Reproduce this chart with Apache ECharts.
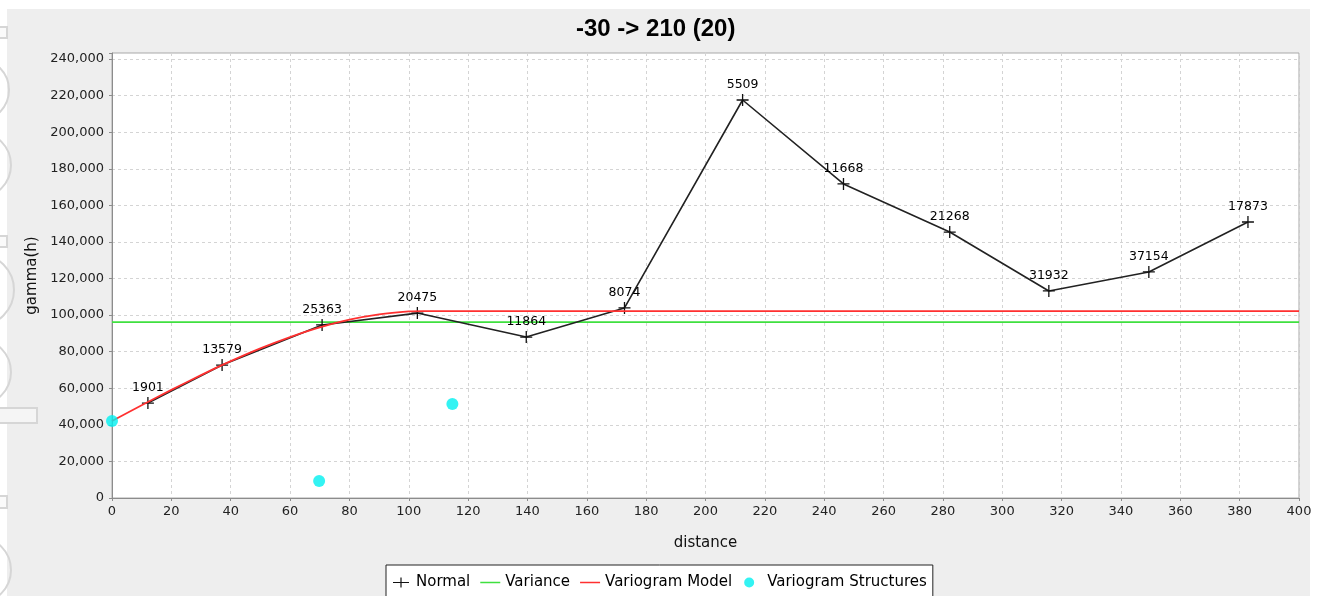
<!DOCTYPE html>
<html>
<head>
<meta charset="utf-8">
<title>Variogram -30 -> 210 (20)</title>
<script src="https://cdn.jsdelivr.net/npm/echarts@6/dist/echarts.min.js"></script>
<style>
  html, body { margin: 0; padding: 0; background: #fff; }
  #chart { width: 1323px; height: 596px; }
</style>
</head>
<body>
<div id="chart"></div>
<script>
// Experimental variogram: lag distance, semivariance and pair count per lag
const lagDistance = [12.1, 37.1, 70.8, 102.9, 139.6, 172.7, 212.5, 246.5, 282.3, 315.7, 349.4, 382.8];
const gammaValues = [51900, 72700, 94600, 101100, 88000, 103900, 217600, 171700, 145400, 113200, 123600, 150900];
const pairCounts  = [1901, 13579, 25363, 20475, 11864, 8074, 5509, 11668, 21268, 31932, 37154, 17873];

// Sample variance (horizontal reference)
const varianceX = [0, 400];
const varianceY = [96200, 96200];

// Fitted variogram model, sampled along the distance axis
const modelX = [0, 10, 20, 30, 40, 50, 60, 70, 80, 90, 100, 105, 400];
const modelY = [42100, 50700, 59100, 67200, 74800, 81800, 88000, 93300, 97500, 100400, 102000, 102200, 102200];

// Variogram structures (nugget and nested structure points)
const structureX = [0, 69.8, 114.7];
const structureY = [42100, 9300, 51400];

// Axis ticks
const xTicks = { min: 0, max: 400, step: 20 };
const yTicks = { min: 0, max: 243300, step: 20000 };

const chartTitle = '-30 -> 210 (20)';
const seriesNames = ['Normal', 'Variance', 'Variogram Model', 'Variogram Structures'];

const zip = (xs, ys) => xs.map((x, i) => [x, ys[i]]);

const FONT = 'DejaVu Sans';
const plusPath = 'path://M0,5.35H12V6.65H0Z M5.35,0H6.65V12H5.35Z';
// Legend icons: tiny corner specks pin every icon to the same 20x10 box
const box = 'M0,0L0.01,0L0.01,0.01Z M20,10L19.99,10L19.99,9.99Z ';
const legendPlus = 'path://' + box + 'M2,4.4H18V5.6H2Z M9.4,0H10.6V10H9.4Z';
const legendLine = 'path://' + box + 'M0,4.3H20V5.7H0Z';
const legendDot = 'path://' + box + 'M7,0A5,5 0 1,1 6.99,0Z';

const chart = echarts.init(document.getElementById('chart'), null, { renderer: 'canvas' });

const option = {
  backgroundColor: '#ffffff',
  animation: false,
  graphic: [
    { type: 'rect', z: -10, shape: { x: 7, y: 9, width: 1303, height: 600 }, style: { fill: '#eeeeee' } },
    // faint widgets peeking in from the left margin
    { type: 'circle', z: -9, shape: { cx: -22, cy: 90, r: 31 }, style: { fill: 'none', stroke: '#d6d6d6', lineWidth: 2 } },
    { type: 'circle', z: -9, shape: { cx: -22, cy: 165, r: 33 }, style: { fill: 'none', stroke: '#d6d6d6', lineWidth: 2 } },
    { type: 'circle', z: -9, shape: { cx: -22, cy: 290, r: 36 }, style: { fill: 'none', stroke: '#d6d6d6', lineWidth: 2 } },
    { type: 'circle', z: -9, shape: { cx: -22, cy: 372, r: 33 }, style: { fill: 'none', stroke: '#d6d6d6', lineWidth: 2 } },
    { type: 'circle', z: -9, shape: { cx: -22, cy: 570, r: 33 }, style: { fill: 'none', stroke: '#d6d6d6', lineWidth: 2 } },
    { type: 'rect', z: -9, shape: { x: -2, y: 27, width: 9, height: 11 }, style: { fill: '#fafafa', stroke: '#d6d6d6', lineWidth: 2 } },
    { type: 'rect', z: -9, shape: { x: -2, y: 236, width: 9, height: 11 }, style: { fill: '#fafafa', stroke: '#d6d6d6', lineWidth: 2 } },
    { type: 'rect', z: -9, shape: { x: -2, y: 496, width: 9, height: 12 }, style: { fill: '#fafafa', stroke: '#d6d6d6', lineWidth: 2 } },
    { type: 'rect', z: -8, shape: { x: -2, y: 408, width: 39, height: 15 }, style: { fill: '#f5f5f5', stroke: '#d6d6d6', lineWidth: 2 } }
  ],
  title: {
    text: chartTitle,
    left: 576,
    top: 17,
    padding: 0,
    textStyle: { fontFamily: 'Liberation Sans', fontWeight: 'bold', fontSize: 24, color: '#000' }
  },
  legend: {
    left: 386,
    top: 565,
    padding: [10, 6, 12, 5],
    itemWidth: 20,
    itemHeight: 10,
    itemGap: 10,
    backgroundColor: '#ffffff',
    borderColor: '#222',
    borderWidth: 1,
    borderRadius: 0,
    itemStyle: { borderWidth: 0 },
    textStyle: { fontFamily: FONT, fontSize: 15, color: '#000', padding: [0, 0, 0, 0] },
    data: [
      { name: seriesNames[0], icon: legendPlus },
      { name: seriesNames[1], icon: legendLine },
      { name: seriesNames[2], icon: legendLine },
      { name: seriesNames[3], icon: legendDot }
    ]
  },
  grid: {
    left: 112,
    right: 24,
    top: 53,
    bottom: 98,
    show: true,
    backgroundColor: '#ffffff',
    borderColor: '#a8a8a8',
    borderWidth: 1
  },
  xAxis: {
    type: 'value',
    min: xTicks.min,
    max: xTicks.max,
    interval: xTicks.step,
    name: 'distance',
    nameLocation: 'middle',
    nameGap: 38,
    nameTextStyle: { fontFamily: FONT, fontSize: 15, color: '#111' },
    axisLine: { show: true, lineStyle: { color: '#8c8c8c', width: 1 } },
    axisTick: { show: true, length: 3, lineStyle: { color: '#8c8c8c' } },
    axisLabel: { fontFamily: FONT, fontSize: 13, color: '#222', margin: 7 },
    splitLine: { show: true, lineStyle: { color: '#d4d4d4', type: [3, 3], width: 1 } }
  },
  yAxis: {
    type: 'value',
    min: yTicks.min,
    max: yTicks.max,
    interval: yTicks.step,
    name: 'gamma(h)',
    nameLocation: 'middle',
    nameRotate: 90,
    nameGap: 71,
    nameTextStyle: { fontFamily: FONT, fontSize: 15, color: '#111' },
    axisLine: { show: true, lineStyle: { color: '#8c8c8c', width: 1 } },
    axisTick: { show: true, length: 3, lineStyle: { color: '#8c8c8c' } },
    axisLabel: {
      fontFamily: FONT, fontSize: 13, color: '#222', margin: 8,
      formatter: v => (v % yTicks.step === 0 ? v.toLocaleString('en-US') : '')
    },
    splitLine: { show: true, lineStyle: { color: '#d4d4d4', type: [3, 3], width: 1 } }
  },
  series: [
    {
      name: seriesNames[0],
      type: 'line',
      z: 3,
      data: zip(lagDistance, gammaValues),
      symbol: plusPath,
      symbolSize: 12,
      showAllSymbol: true,
      color: '#111111',
      itemStyle: { color: '#111111' },
      lineStyle: { color: '#222222', width: 1.6 },
      label: {
        show: true,
        position: 'top',
        distance: 3,
        fontFamily: FONT,
        fontSize: 12.5,
        color: '#000',
        formatter: p => String(pairCounts[p.dataIndex])
      }
    },
    {
      name: seriesNames[1],
      type: 'line',
      z: 2,
      data: zip(varianceX, varianceY),
      showSymbol: false,
      symbol: 'none',
      color: '#3fe03f',
      lineStyle: { color: '#3fe03f', width: 1.8 }
    },
    {
      name: seriesNames[2],
      type: 'line',
      z: 4,
      data: zip(modelX, modelY),
      showSymbol: false,
      symbol: 'none',
      smooth: 0.2,
      color: '#ff3030',
      lineStyle: { color: '#ff3030', width: 1.8 }
    },
    {
      name: seriesNames[3],
      type: 'scatter',
      z: 5,
      data: zip(structureX, structureY),
      symbol: 'circle',
      symbolSize: 12,
      color: '#00f0f0',
      itemStyle: { color: '#00f0f0' }
    }
  ]
};

chart.setOption(option);
</script>
</body>
</html>
